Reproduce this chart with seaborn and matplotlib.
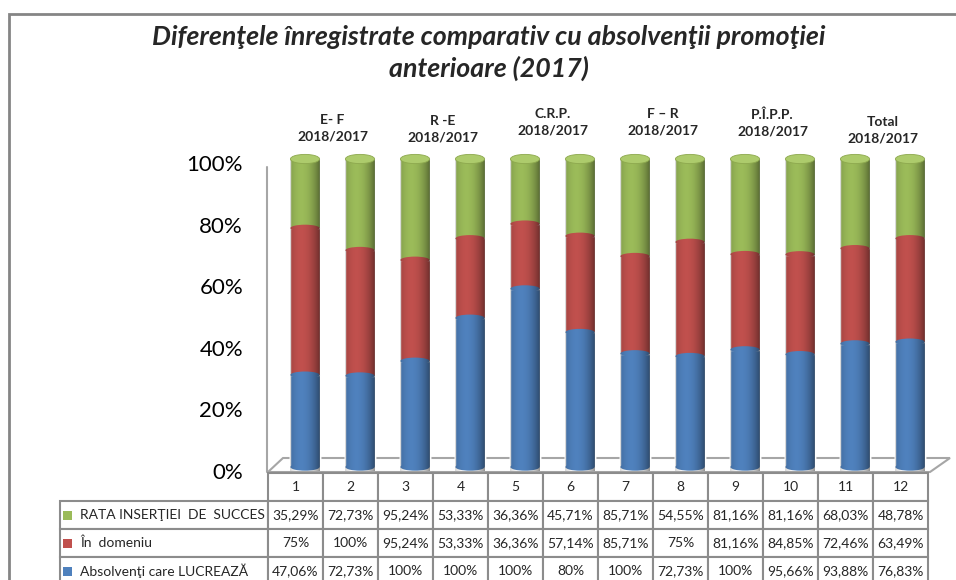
import numpy as np
import pandas as pd
import seaborn as sns
import matplotlib.pyplot as plt
import matplotlib.transforms as mtransforms
from matplotlib.patches import Rectangle, Polygon, Ellipse
from matplotlib.lines import Line2D

# data
coloane = [str(i) for i in range(1, 13)]
rata_insertiei = [35.29, 72.73, 95.24, 53.33, 36.36, 45.71, 85.71, 54.55, 81.16, 81.16, 68.03, 48.78]
in_domeniu = [75, 100, 95.24, 53.33, 36.36, 57.14, 85.71, 75, 81.16, 84.85, 72.46, 63.49]
lucreaza = [47.06, 72.73, 100, 100, 100, 80, 100, 72.73, 100, 95.66, 93.88, 76.83]
serii = ["RATA INSERŢIEI  DE  SUCCES", "În  domeniu", "Absolvenţi care LUCREAZĂ"]
grupe = ["E- F", "R -E", "C.R.P.", "F – R", "P.Î.P.P.", "Total"]
an_grupa = "2018/2017"
titlu = "Diferenţele înregistrate comparativ cu absolvenţii promoţiei\nanterioare (2017)"

verde, rosu, albastru = "#9BBB59", "#C0504D", "#4F81BD"

sns.set_theme(style="white")
plt.rcParams['font.family'] = ['Lato', 'DejaVu Sans']

W, H = 956, 580
def fx(px):
    return px / W
def fy(py):
    return 1 - py / H

# 100% stacked values
df = pd.DataFrame({"col": coloane, "rata": rata_insertiei, "dom": in_domeniu, "lucr": lucreaza})
tot = df["rata"] + df["dom"] + df["lucr"]
df["blue"] = df["lucr"] / tot * 100
df["red"] = (df["lucr"] + df["dom"]) / tot * 100
df["green"] = 100.0

fig = plt.figure(figsize=(9.56, 5.8), dpi=100)

# frame, floor, axis wall line
fig.add_artist(Rectangle((fx(9), fy(600)), fx(975) - fx(9), fy(14) - fy(600), transform=fig.transFigure,
                         fill=False, edgecolor="#858585", lw=2, zorder=-2))
floor = [(268, 472), (283, 458), (950, 458), (930, 472)]
fig.add_artist(Polygon([(fx(a), fy(b)) for a, b in floor], closed=True, transform=fig.transFigure,
                       facecolor="white", edgecolor="#A6A6A6", lw=1.5, zorder=-1))
fig.add_artist(Line2D([fx(267), fx(267)], [fy(167), fy(472)], transform=fig.transFigure,
                      color="#A6A6A6", lw=1.5, zorder=-1))

ax = fig.add_axes([fx(277.5), fy(467), fx(937.5) - fx(277.5), fy(159) - fy(467)])
ax.set_facecolor("none")
bw = 0.53
sns.barplot(data=df, x="col", y="green", color=verde, saturation=1, width=bw, ax=ax)
sns.barplot(data=df, x="col", y="red", color=rosu, saturation=1, width=bw, ax=ax)
sns.barplot(data=df, x="col", y="blue", color=albastru, saturation=1, width=bw, ax=ax)

# cylinder look: curved joins, caps and side shading
u = np.linspace(0, 1, 64)
shade = np.zeros((1, 64, 4))
shade[..., 3] = np.clip(0.42 * ((u - 0.38) / 0.62) ** 2, 0, 1)
for i in range(len(coloane)):
    p = ax.patches[i]
    x0, w = p.get_x(), p.get_width()
    xc = x0 + w / 2
    ax.add_patch(Ellipse((xc, df["blue"][i]), w, 2.2, color=albastru, zorder=3, lw=0))
    ax.add_patch(Ellipse((xc, df["red"][i]), w, 2.2, color=rosu, zorder=3, lw=0))
    ax.add_patch(Ellipse((xc, 0), w, 2.4, color=albastru, zorder=3, lw=0, clip_on=False))
    ax.imshow(shade, extent=(x0, x0 + w, -1.2, 100), aspect="auto", zorder=4,
              interpolation="bilinear", clip_on=False)
    ax.add_patch(Ellipse((xc, 100), w, 3.0, facecolor="#ADCB6C", edgecolor="#8DA84E", lw=0.6,
                         zorder=5, clip_on=False))

ax.set_xlim(-0.5, 11.5)
ax.set_ylim(0, 100)
ax.set_xticks([])
ax.set_xlabel("")
ax.set_ylabel("")
ax.set_yticks(range(0, 101, 20))
ax.set_yticklabels([f"{v}%" for v in range(0, 101, 20)], fontsize=16, color="#000000")
ax.tick_params(axis="y", length=0, pad=24.8)
off = mtransforms.ScaledTranslation(0, -4 / 100, fig.dpi_scale_trans)
for lab in ax.get_yticklabels():
    lab.set_transform(lab.get_transform() + off)
sns.despine(ax=ax, left=True, bottom=True)

# group headers above pairs of bars
grp_y = [128, 129, 122.5, 122.5, 122.5, 130]
tr = mtransforms.blended_transform_factory(ax.transData, fig.transFigure)
for k, g in enumerate(grupe):
    ax.text(2 * k + 0.5, fy(grp_y[k]), g + "\n" + an_grupa, transform=tr, ha="center", va="center",
            fontsize=10, fontweight="bold", linespacing=1.45)

fig.text(fx(489), fy(53), titlu, ha="center", va="center", fontsize=19.3, fontweight="bold",
         style="italic", linespacing=1.3)

# data table
tax = fig.add_axes([fx(60), fy(585), fx(928) - fx(60), fy(473) - fy(585)])
tax.axis("off")
fmt = lambda v: (f"{v:.2f}".replace(".", ",").removesuffix(",00")) + "%"
cell_text = [[""] + coloane,
             [serii[0]] + [fmt(v) for v in rata_insertiei],
             [serii[1]] + [fmt(v) for v in in_domeniu],
             [serii[2]] + [fmt(v) for v in lucreaza]]
tw = 928 - 60
tab = tax.table(cellText=cell_text, colWidths=[208 / tw] + [55 / tw] * 12, bbox=[0, 0, 1, 1],
                cellLoc="center")
tab.auto_set_font_size(False)
tab.set_fontsize(10)
for (r, c), cell in tab.get_celld().items():
    cell.set_edgecolor("#8C8C8C")
    cell.set_linewidth(1.5)
    if r == 0 and c == 0:
        cell.visible_edges = ""
    if c == 0 and r > 0:
        cell._loc = "left"
        cell.PAD = 0.095
        cell.get_text().set_horizontalalignment("left")

row_h = 1 / 4
for j, colr in enumerate([verde, rosu, albastru]):
    yc = 1 - (j + 1.5) * row_h
    sq_w = 9 / tw
    sq_h = 9 / (585 - 473)
    tax.add_patch(Rectangle((3 / tw, yc - sq_h / 2), sq_w, sq_h, transform=tax.transAxes,
                            facecolor=colr, edgecolor="none", zorder=5))

fig.savefig("out.png", dpi=100)
